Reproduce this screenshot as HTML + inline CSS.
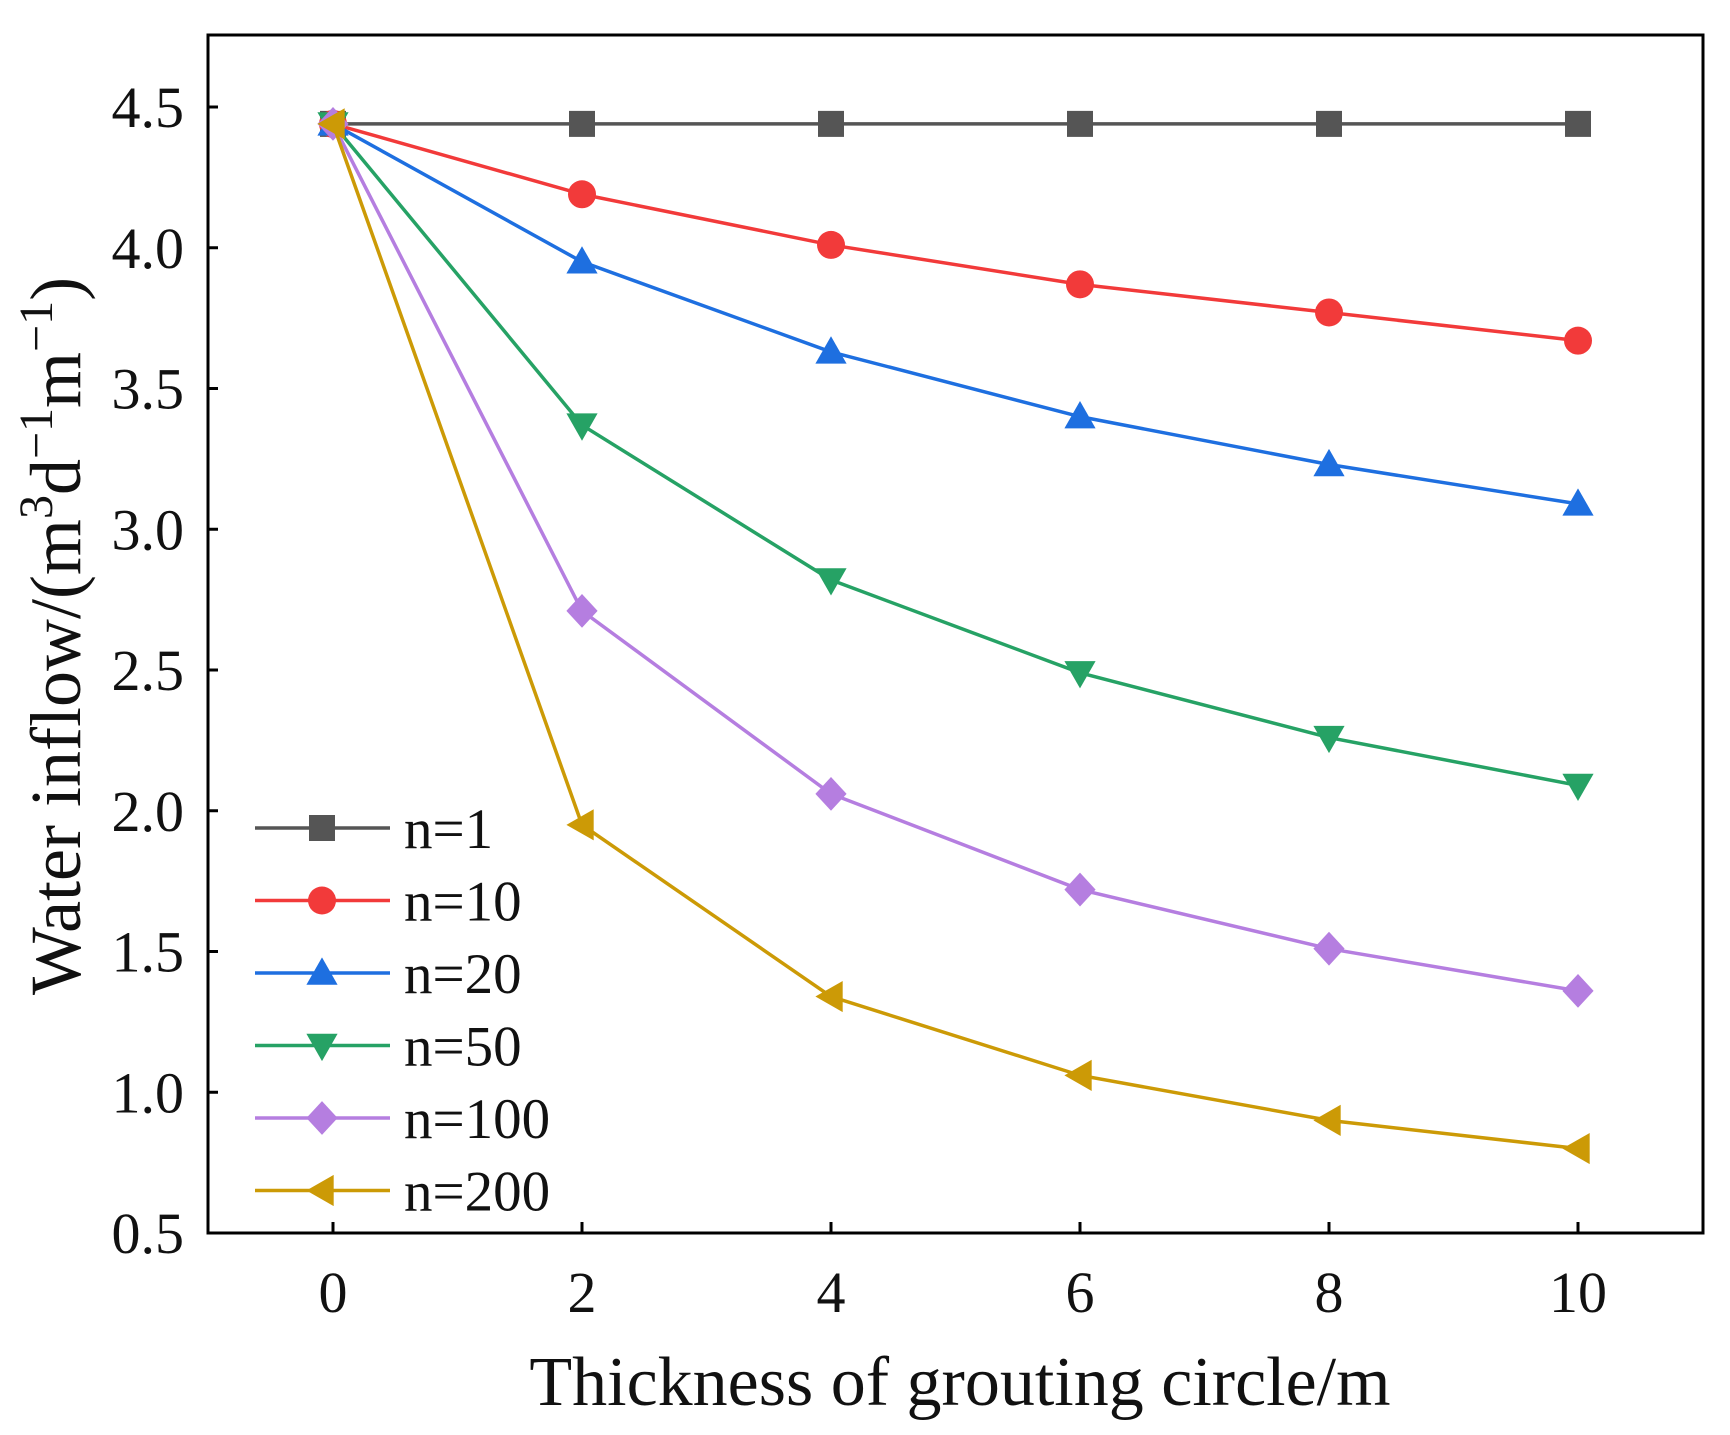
<!DOCTYPE html>
<html><head><meta charset="utf-8"><style>
body{margin:0;background:#fff}
svg text{font-family:"Liberation Serif",serif;fill:#111}
</style></head><body>
<svg id="chart" width="1730" height="1430" viewBox="0 0 1730 1430" xmlns="http://www.w3.org/2000/svg">
<g id="plot"></g>
</svg>
<script>
const xValues=[0,2,4,6,8,10];
const seriesNames=["n=1","n=10","n=20","n=50","n=100","n=200"];
const n1=[4.44,4.44,4.44,4.44,4.44,4.44];
const n10=[4.44,4.19,4.01,3.87,3.77,3.67];
const n20=[4.44,3.95,3.63,3.40,3.23,3.09];
const n50=[4.44,3.37,2.82,2.49,2.26,2.09];
const n100=[4.44,2.71,2.06,1.72,1.51,1.36];
const n200=[4.44,1.95,1.34,1.06,0.90,0.80];
const yTicks=["0.5","1.0","1.5","2.0","2.5","3.0","3.5","4.0","4.5"];
const xTicks=["0","2","4","6","8","10"];

const NS="http://www.w3.org/2000/svg";
const g=document.getElementById('plot');
function X(v){return 333+v*124.5;}
function Y(v){return 1233-(v-0.5)*281.5;}
function el(t,a){const e=document.createElementNS(NS,t);for(const k in a)e.setAttribute(k,a[k]);g.appendChild(e);return e;}
const colors=["#555555","#f23a3a","#1e6fe0","#26a265","#b57ee0","#cc9a06"];
const shapes=["square","circle","up","down","diamond","left"];
const data=[n1,n10,n20,n50,n100,n200];

function marker(shape,cx,cy,c,s){
  let e;
  if(shape==="square")e=el('rect',{x:cx-s,y:cy-s,width:2*s,height:2*s,fill:c});
  else if(shape==="circle")e=el('circle',{cx:cx,cy:cy,r:s+1,fill:c});
  else{
    let p;
    if(shape==="up")p=[[cx,cy-s*1.2],[cx+s*1.2,cy+s*0.9],[cx-s*1.2,cy+s*0.9]];
    if(shape==="down")p=[[cx,cy+s*1.2],[cx+s*1.2,cy-s*0.9],[cx-s*1.2,cy-s*0.9]];
    if(shape==="diamond")p=[[cx,cy-s*1.3],[cx+s*1.2,cy],[cx,cy+s*1.3],[cx-s*1.2,cy]];
    if(shape==="left")p=[[cx-s*1.2,cy],[cx+s*0.9,cy-s*1.2],[cx+s*0.9,cy+s*1.2]];
    e=el('polygon',{points:p.map(q=>q.join(',')).join(' '),fill:c});
  }
  return e;
}

const fr=el('rect',{x:208,y:35,width:1495,height:1198,fill:'none',stroke:'#000','stroke-width':3});



yTicks.forEach(t=>{
  const y=Y(parseFloat(t));
  const l=el('line',{x1:208,x2:218,y1:y,y2:y,stroke:'#000','stroke-width':3});
  
  
  const tx=el('text',{x:184,y:y+20,'font-size':58,'text-anchor':'end'});tx.textContent=t;
  
  
});
xTicks.forEach(t=>{
  const x=X(parseFloat(t));
  const l=el('line',{x1:x,x2:x,y1:1233,y2:1222,stroke:'#000','stroke-width':3});
  
  
  const tx=el('text',{x:x,y:1312,'font-size':58,'text-anchor':'middle'});tx.textContent=t;
  
  
});

data.forEach((d,i)=>{
  const pl=el('polyline',{points:d.map((v,j)=>X(xValues[j])+','+Y(v)).join(' '),fill:'none',stroke:colors[i],'stroke-width':3.5});
  
  
  d.forEach((v,j)=>{
    const m=marker(shapes[i],X(xValues[j]),Y(v),colors[i],13);
    
    
  });
});

seriesNames.forEach((n,i)=>{
  const y=828+i*72.5;
  const l=el('line',{x1:255,x2:390,y1:y,y2:y,stroke:colors[i],'stroke-width':3.5});
  
  
  const m=marker(shapes[i],322,y,colors[i],13);
  
  
  const t=el('text',{x:404,y:y+20,'font-size':57});t.textContent=n;
  
  
});

const xt=el('text',{x:960,y:1405,'font-size':70,'text-anchor':'middle'});
xt.textContent='Thickness of grouting circle/m';


const yt=el('text',{x:0,y:0,'font-size':72,'text-anchor':'middle',transform:'translate(80,636) rotate(-90)'});
yt.innerHTML='Water inflow/(m<tspan font-size="48" dy="-28">3</tspan><tspan dy="28">d</tspan><tspan font-size="48" dy="-28">\u22121</tspan><tspan dy="28">m</tspan><tspan font-size="48" dy="-28">\u22121</tspan><tspan dy="28">)</tspan>';


</script>
</body></html>
